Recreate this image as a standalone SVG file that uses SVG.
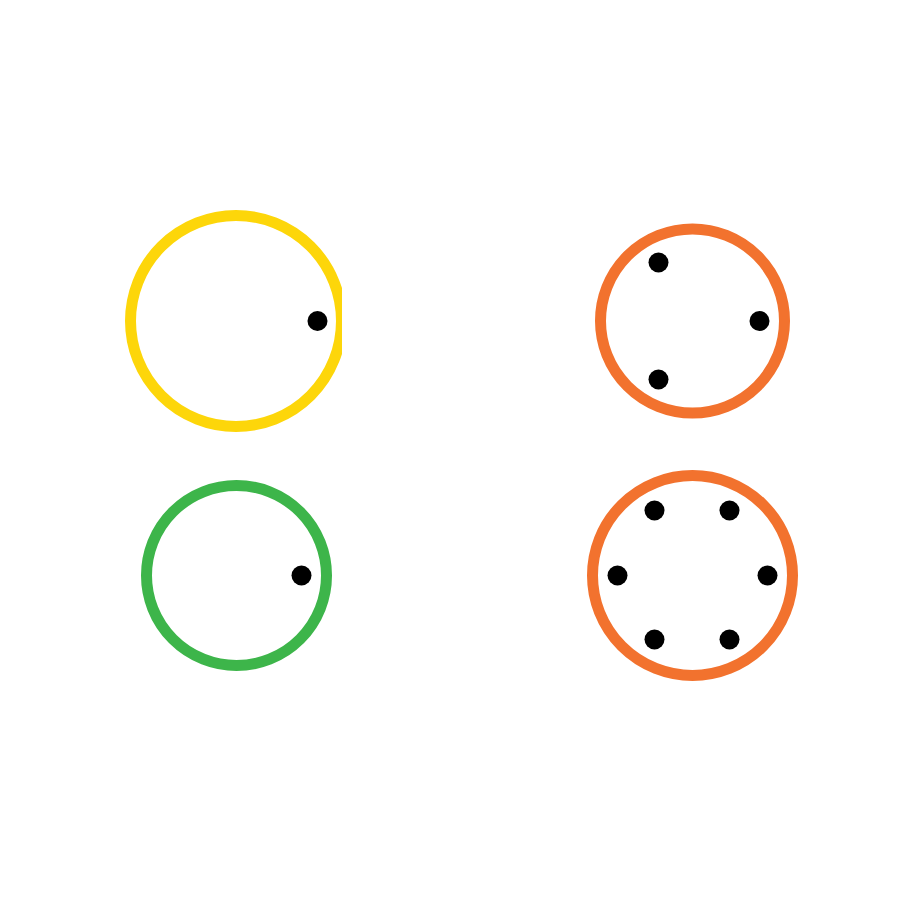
<svg xmlns="http://www.w3.org/2000/svg" width="912" height="912" viewBox="0 0 912 912">
<style>
.ring{fill:none;stroke-width:11}
.dot{fill:#000}
</style>
<defs>
<clipPath id="clipY"><rect x="0" y="0" width="342" height="912"/></clipPath>
</defs>
<rect width="912" height="912" fill="#fff"/>
<g id="yellow" clip-path="url(#clipY)">
<circle class="ring" cx="236" cy="321" r="105.5" stroke="#FDD60A"/>
<circle class="dot" cx="317.5" cy="321" r="10"/>
</g>
<g id="orange-top">
<circle class="ring" cx="692.5" cy="321" r="92" stroke="#F2722E"/>
<circle class="dot" cx="658.5" cy="262.5" r="10"/>
<circle class="dot" cx="759.5" cy="321" r="10"/>
<circle class="dot" cx="658.5" cy="379.5" r="10"/>
</g>
<g id="green">
<circle class="ring" cx="236.5" cy="575.5" r="90" stroke="#3DB54A"/>
<circle class="dot" cx="301.5" cy="575.5" r="10"/>
</g>
<g id="orange-bottom">
<circle class="ring" cx="692.5" cy="575.5" r="100" stroke="#F2722E"/>
<circle class="dot" cx="654.5" cy="510.5" r="10"/>
<circle class="dot" cx="729.5" cy="510.5" r="10"/>
<circle class="dot" cx="617.5" cy="575.5" r="10"/>
<circle class="dot" cx="767.5" cy="575.5" r="10"/>
<circle class="dot" cx="654.5" cy="639.5" r="10"/>
<circle class="dot" cx="729.5" cy="639.5" r="10"/>
</g>
<g id="connectors"></g>
</svg>
